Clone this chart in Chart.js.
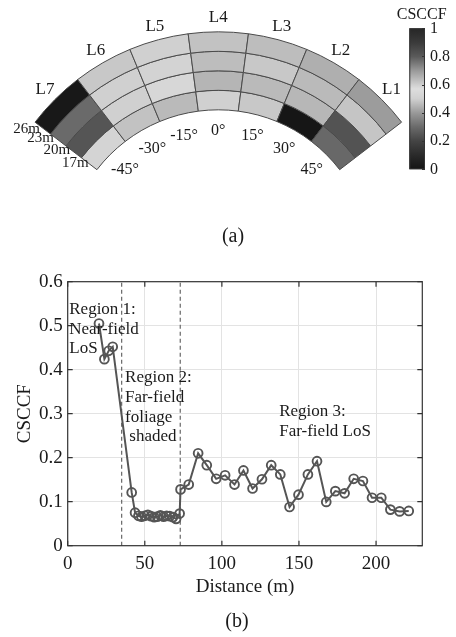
<!DOCTYPE html>
<html>
<head>
<meta charset="utf-8">
<script src="https://cdn.jsdelivr.net/npm/chart.js"></script>
<style>
  body { margin: 0; background: #fff; }
  #page { position: relative; width: 456px; height: 637px; overflow: hidden; }
  #page canvas { position: absolute; }
</style>
</head>
<body>
<div id="page">
  <canvas id="arcChart" width="456" height="250" style="left:0;top:0;"></canvas>
  <canvas id="cbarChart" width="71" height="190" style="left:385px;top:0;"></canvas>
  <canvas id="lineChart" width="456" height="387" style="left:0;top:250px;"></canvas>
</div>

<script>
// (a) CSCCF per sector / range ring
var sectors = ['L1', 'L2', 'L3', 'L4', 'L5', 'L6', 'L7'];
var sectorAngles = ['45°', '30°', '15°', '0°', '-15°', '-30°', '-45°'];
var ranges = ['17m', '20m', '23m', '26m'];
var csccf17m = [0.295, 0.010, 0.485, 0.500, 0.460, 0.475, 0.520];
var csccf20m = [0.240, 0.455, 0.460, 0.450, 0.535, 0.500, 0.245];
var csccf23m = [0.480, 0.460, 0.485, 0.465, 0.515, 0.500, 0.300];
var csccf26m = [0.405, 0.440, 0.465, 0.475, 0.500, 0.485, 0.020];

// colour map (gray levels at CSCCF stops)
var cmapStops = [0, 0.1, 0.2, 0.3, 0.4, 0.5, 0.57, 0.6, 0.7, 0.8, 0.9, 1];
var cmapGray  = [20, 42, 68, 106, 153, 208, 222, 207, 153, 90, 58, 38];
var cbarTicks = [0, 0.2, 0.4, 0.6, 0.8, 1];

// (b) CSCCF vs distance
var distance = [20.3, 23.8, 26.6, 29.2, 41.5, 43.7,
  45.9, 47.9, 50.0, 52.0, 54.0, 56.1, 58.1, 60.1, 62.2, 64.2, 66.2, 68.3, 70.3,
  72.6, 73.2, 78.5, 84.6, 90.2, 96.3, 102.1, 108.2, 114.0, 119.9, 126.0, 132.0,
  137.9, 143.9, 149.7, 155.8, 161.7, 167.7, 173.6, 179.6, 185.5, 191.5, 197.4,
  203.4, 209.3, 215.3, 221.2];
var csccf = [0.505, 0.424, 0.443, 0.452, 0.121, 0.075,
  0.068, 0.066, 0.068, 0.070, 0.067, 0.065, 0.066, 0.069, 0.066, 0.068, 0.067, 0.065, 0.061,
  0.073, 0.128, 0.139, 0.210, 0.183, 0.152, 0.160, 0.139, 0.171, 0.130, 0.151, 0.183,
  0.162, 0.088, 0.116, 0.162, 0.192, 0.0995, 0.124, 0.119, 0.152, 0.147, 0.109,
  0.109, 0.082, 0.078, 0.079];
var distanceTicks = [0, 50, 100, 150, 200];
var regionBounds = [35, 73];
var regionNames = [
  ['Region 1:', 'Near-field', 'LoS'],
  ['Region 2:', 'Far-field', 'foliage', ' shaded'],
  ['Region 3:', 'Far-field LoS']
];

var serif = "'Liberation Serif', 'Times New Roman', serif";
Chart.defaults.font.family = serif;
Chart.defaults.color = '#1a1a1a';

function gray(g) { g = Math.round(g); return 'rgb(' + g + ',' + g + ',' + g + ')'; }

function grayAt(v) {
  for (var i = 1; i < cmapStops.length; i++) {
    if (v <= cmapStops[i]) {
      var t = (v - cmapStops[i - 1]) / (cmapStops[i] - cmapStops[i - 1]);
      return gray(cmapGray[i - 1] + t * (cmapGray[i] - cmapGray[i - 1]));
    }
  }
  return gray(cmapGray[cmapGray.length - 1]);
}

// ---------- (a) sector map ----------
var arcLabels = {
  id: 'arcLabels',
  afterDraw: function(chart) {
    var ctx = chart.ctx;
    var outer = chart.getDatasetMeta(0).data;
    var p0 = outer[0].getProps(['x', 'y', 'outerRadius']);
    var cx = p0.x, cy = p0.y;
    var inner = chart.getDatasetMeta(chart.data.datasets.length - 1).data[0].getProps(['innerRadius']).innerRadius;
    ctx.save();
    ctx.fillStyle = '#1a1a1a';
    ctx.textAlign = 'center';
    ctx.textBaseline = 'middle';
    outer.forEach(function(arc, j) {
      var p = arc.getProps(['startAngle', 'endAngle']);
      var a = (p.startAngle + p.endAngle) / 2;
      var k = sectors.length - 1 - j;
      ctx.font = '17px ' + serif;
      ctx.fillText(sectors[k], cx + (p0.outerRadius + 14) * Math.cos(a), cy + (p0.outerRadius + 14) * Math.sin(a));
      ctx.font = '16px ' + serif;
      ctx.fillText(sectorAngles[k], cx + (inner - 21) * Math.cos(a), cy + (inner - 21) * Math.sin(a));
    });
    // range labels along the left edge
    var ra = -Math.PI / 2 - 55 * Math.PI / 180;
    var rr = [174.6, 197, 217, 234];
    ctx.font = '15px ' + serif;
    ranges.forEach(function(t, i) {
      ctx.fillText(t, cx + rr[i] * Math.cos(ra), cy + rr[i] * Math.sin(ra));
    });
    ctx.font = '20px ' + serif;
    ctx.fillText('(a)', 233, 237);
    ctx.restore();
  }
};

var ringValues = [csccf26m, csccf23m, csccf20m, csccf17m];   // outer ring first

new Chart(document.getElementById('arcChart'), {
  type: 'doughnut',
  data: {
    labels: sectors.slice().reverse(),
    datasets: ringValues.map(function(vals, i) {
      return {
        label: ranges[ranges.length - 1 - i],
        data: vals.map(function() { return 1; }),
        backgroundColor: vals.slice().reverse().map(grayAt),
        borderColor: '#4a4a4a',
        borderWidth: 1,
        hoverOffset: 0
      };
    })
  },
  options: {
    responsive: false,
    animation: false,
    rotation: -52.5,
    circumference: 105,
    radius: 231,
    cutout: '66.23%',
    layout: { padding: { left: 0, right: 19.4, top: 0, bottom: 48.5 } },
    plugins: { legend: { display: false }, tooltip: { enabled: false } }
  },
  plugins: [arcLabels]
});

// ---------- colour bar ----------
var cbarDecor = {
  id: 'cbarDecor',
  afterDraw: function(chart) {
    var ctx = chart.ctx, ca = chart.chartArea, ys = chart.scales.y;
    ctx.save();
    ctx.strokeStyle = '#333';
    ctx.lineWidth = 1;
    ctx.strokeRect(ca.left + 0.5, ca.top + 0.5, ca.right - ca.left - 1, ca.bottom - ca.top - 1);
    ys.ticks.forEach(function(t) {
      var y = Math.round(ys.getPixelForValue(t.value)) + 0.5;
      ctx.beginPath();
      ctx.moveTo(ca.right - 3, y);
      ctx.lineTo(ca.right, y);
      ctx.stroke();
    });
    ctx.fillStyle = '#1a1a1a';
    ctx.font = '16px ' + serif;
    ctx.textAlign = 'center';
    ctx.textBaseline = 'middle';
    ctx.fillText('CSCCF', 36.7, 15);
    ctx.restore();
  }
};

new Chart(document.getElementById('cbarChart'), {
  type: 'bar',
  data: {
    labels: ['CSCCF'],
    datasets: [{
      data: [[0, 1]],
      barPercentage: 1,
      categoryPercentage: 1,
      borderWidth: 0,
      backgroundColor: function(c) {
        var ca = c.chart.chartArea;
        if (!ca) return '#888';
        var g = c.chart.ctx.createLinearGradient(0, ca.bottom, 0, ca.top);
        cmapStops.forEach(function(s, i) { g.addColorStop(s, gray(cmapGray[i])); });
        return g;
      }
    }]
  },
  options: {
    responsive: false,
    animation: false,
    layout: { padding: { left: 24.3, top: 28.3, bottom: 20.7, right: 0 } },
    plugins: { legend: { display: false }, tooltip: { enabled: false } },
    scales: {
      x: { display: false },
      y: {
        position: 'right',
        min: 0, max: 1,
        afterBuildTicks: function(s) { s.ticks = cbarTicks.map(function(v) { return { value: v }; }); },
        afterFit: function(s) { s.width = 31; },
        ticks: {
          padding: 5, font: { size: 16 }, color: '#1a1a1a',
          callback: function(v) { return (v === 0 || v === 1) ? String(v) : v.toFixed(1); }
        },
        grid: { display: false, drawTicks: false },
        border: { display: false }
      }
    }
  },
  plugins: [cbarDecor]
});

// ---------- (b) CSCCF vs distance ----------
var lineDecor = {
  id: 'lineDecor',
  afterDraw: function(chart) {
    var ctx = chart.ctx, ca = chart.chartArea;
    var xs = chart.scales.x, ys = chart.scales.y;
    ctx.save();
    ctx.strokeStyle = '#333';
    ctx.lineWidth = 1.2;
    ys.ticks.forEach(function(t) {
      var y = ys.getPixelForValue(t.value);
      ctx.beginPath();
      ctx.moveTo(ca.left, y); ctx.lineTo(ca.left + 5, y);
      ctx.moveTo(ca.right, y); ctx.lineTo(ca.right - 5, y);
      ctx.stroke();
    });
    xs.ticks.forEach(function(t) {
      var x = xs.getPixelForValue(t.value);
      ctx.beginPath();
      ctx.moveTo(x, ca.bottom); ctx.lineTo(x, ca.bottom - 5);
      ctx.moveTo(x, ca.top); ctx.lineTo(x, ca.top + 5);
      ctx.stroke();
    });
    ctx.strokeRect(ca.left, ca.top, ca.right - ca.left, ca.bottom - ca.top);

    // region notes
    var notePos = [[1, 0.537], [37.2, 0.382], [137.2, 0.305]];
    ctx.fillStyle = '#1a1a1a';
    ctx.font = '17px ' + serif;
    ctx.textAlign = 'left';
    ctx.textBaseline = 'middle';
    regionNames.forEach(function(lines, i) {
      var x = xs.getPixelForValue(notePos[i][0]);
      var y = ys.getPixelForValue(notePos[i][1]);
      lines.forEach(function(l, k) { ctx.fillText(l, x, y + k * 19.8); });
    });
    ctx.textAlign = 'center';
    ctx.font = '20px ' + serif;
    ctx.fillText('(b)', 237, 371.7);
    ctx.restore();
  }
};

var boundarySets = regionBounds.map(function(b) {
  return {
    data: [{ x: b, y: 0 }, { x: b, y: 0.6 }],
    borderColor: '#666',
    borderWidth: 1.2,
    borderDash: [4, 3],
    pointRadius: 0
  };
});

new Chart(document.getElementById('lineChart'), {
  type: 'line',
  data: {
    datasets: [{
      data: distance.map(function(d, i) { return { x: d, y: csccf[i] }; }),
      borderColor: '#555',
      borderWidth: 2,
      pointRadius: 4.4,
      pointBorderWidth: 1.9,
      pointBorderColor: '#555',
      pointBackgroundColor: 'rgba(0,0,0,0)'
    }].concat(boundarySets)
  },
  options: {
    responsive: false,
    animation: false,
    layout: { padding: { left: 0, right: 33.7, top: 31.7, bottom: 31.3 } },
    plugins: { legend: { display: false }, tooltip: { enabled: false } },
    scales: {
      x: {
        type: 'linear',
        min: 0, max: 230,
        afterBuildTicks: function(s) { s.ticks = distanceTicks.map(function(v) { return { value: v }; }); },
        afterFit: function(s) { s.height = 60; },
        ticks: { padding: 6.9, font: { size: 19 }, color: '#1a1a1a', maxRotation: 0, autoSkip: false },
        grid: { color: '#e3e3e3', drawTicks: false },
        border: { display: false },
        title: { display: true, text: 'Distance (m)', font: { size: 19 }, color: '#1a1a1a', padding: { top: 0, bottom: 7.6 } }
      },
      y: {
        min: 0, max: 0.6,
        afterFit: function(s) { s.width = 67.7; },
        ticks: { stepSize: 0.1, padding: 5, font: { size: 19 }, color: '#1a1a1a' },
        grid: { color: '#e3e3e3', drawTicks: false },
        border: { display: false },
        title: { display: true, text: 'CSCCF', font: { size: 19 }, color: '#1a1a1a', padding: { top: 13.6, bottom: 0 } }
      }
    }
  },
  plugins: [lineDecor]
});
</script>
</body>
</html>
